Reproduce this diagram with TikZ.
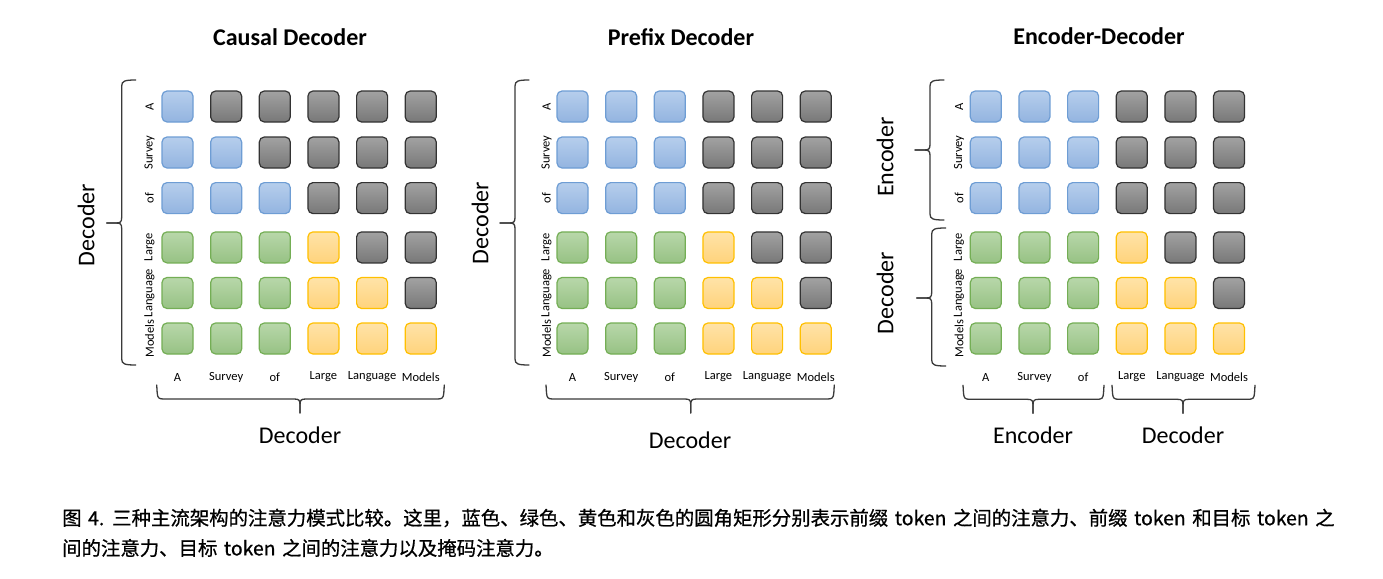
\documentclass[tikz,border=0pt]{standalone}
\usepackage{fontspec}
\setmainfont{Carlito}
\newfontfamily\cjk[WordSpace=1.5,FakeBold=0.7]{Noto Sans CJK SC}

% cell colours: line, top and bottom of the gradient
\definecolor{line-b}{HTML}{6E9DD4}
\definecolor{top-b}{HTML}{B6CEEC}
\definecolor{bot-b}{HTML}{93B4E0}
\definecolor{line-g}{HTML}{74AE55}
\definecolor{top-g}{HTML}{B8D7AA}
\definecolor{bot-g}{HTML}{97C284}
\definecolor{line-y}{HTML}{FFC000}
\definecolor{top-y}{HTML}{FFE3A8}
\definecolor{bot-y}{HTML}{FFD37C}
\definecolor{line-k}{HTML}{333333}
\definecolor{top-k}{HTML}{A2A2A2}
\definecolor{bot-k}{HTML}{787878}
\definecolor{bracecol}{HTML}{3A3A3A}

% vertical brace pointing left: x of the stem, y top, y tip, y bottom
\newcommand{\sidebrace}[4]{%
  \draw[bracestroke] (#1+14,#2) .. controls (#1+3,#2) and (#1,#2+1) .. (#1,#2+6)
    -- (#1,#3-6) .. controls (#1,#3-1) and (#1-1,#3) .. (#1-6,#3) -- (#1-15,#3);
  \draw[bracestroke] (#1-15,#3) -- (#1-6,#3) .. controls (#1-1,#3) and (#1,#3+1) .. (#1,#3+6)
    -- (#1,#4-6) .. controls (#1,#4-1) and (#1+3,#4) .. (#1+14,#4);
}
% horizontal brace pointing down: y of the bar, x left, x tip, x right
\newcommand{\botbrace}[4]{%
  \draw[bracestroke] (#2,#1-14) -- (#2+0.5,#1-6) .. controls (#2+1,#1-1) and (#2+2,#1) .. (#2+7,#1)
    -- (#3-6,#1) .. controls (#3-1,#1) and (#3,#1+1) .. (#3,#1+6) -- (#3,#1+14);
  \draw[bracestroke] (#3,#1+14) -- (#3,#1+6) .. controls (#3,#1+1) and (#3+1,#1) .. (#3+6,#1)
    -- (#4-7,#1) .. controls (#4-2,#1) and (#4-1,#1-1) .. (#4-0.5,#1-6) -- (#4,#1-14);
}
% one attention grid: name, x of first column, x of row labels, row patterns
\newcommand{\attnpanel}[4]{%
  \foreach \row [count=\i] in {#4} {
    \pgfmathsetmacro{\yy}{{106.5,152.5,198.1,247.4,293,338.5}[\i-1]}
    \foreach \cc [count=\j] in \row {
      \node[cell=\cc] (#1-\i-\j) at ({#2+48.65*(\j-1)},\yy) {};
    }
  }
  \foreach \w [count=\i] in {A,Survey,of,Large,Language,Models} {
    \pgfmathsetmacro{\yy}{{106.5,152.5,198.1,247.4,293,338.5}[\i-1]}
    \node[tok,rotate=90] (#1-r\i) at (#3,\yy) {\w};
    \node[tok] (#1-c\i) at ({#2+48.65*(\i-1)},377) {\w};
  }
}

\begin{document}
\begin{tikzpicture}[x=1pt,y=-1pt,
  cell/.style={draw=line-#1, top color=top-#1, bottom color=bot-#1,
    rounded corners=5pt, minimum size=31pt, inner sep=0pt, line width=1.2pt},
  tok/.style={font=\fontsize{12.5}{14}\selectfont, inner sep=0pt},
  title/.style={font=\fontsize{24}{28}\selectfont\bfseries, inner sep=0pt},
  biglab/.style={font=\fontsize{24}{28}\selectfont, inner sep=0pt},
  caption/.style={font=\cjk\fontsize{19.4}{23}\selectfont, text=black, anchor=west, inner sep=0pt},
  bracestroke/.style={draw=bracecol, line width=1.3pt, line cap=round, line join=round}]

\fill[white] (0,0) rectangle (1383,578);
\path[use as bounding box] (0,0) rectangle (1383,578);

% titles
\node[title] (t-causal) at (290,37) {Causal Decoder};
\node[title] (t-prefix) at (681,37) {Prefix Decoder};
\node[title] (t-encdec) at (1099,36) {Encoder-Decoder};

% grids
\attnpanel{cd}{177.5}{149.5}{{b,k,k,k,k,k},{b,b,k,k,k,k},{b,b,b,k,k,k},{g,g,g,y,k,k},{g,g,g,y,y,k},{g,g,g,y,y,y}}
\attnpanel{pd}{572.5}{546.5}{{b,b,b,k,k,k},{b,b,b,k,k,k},{b,b,b,k,k,k},{g,g,g,y,k,k},{g,g,g,y,y,k},{g,g,g,y,y,y}}
\attnpanel{ed}{985.8}{959}{{b,b,b,k,k,k},{b,b,b,k,k,k},{b,b,b,k,k,k},{g,g,g,y,k,k},{g,g,g,y,y,k},{g,g,g,y,y,y}}

% causal decoder braces and labels
\sidebrace{121.7}{80}{223}{365}
\node[biglab,rotate=90] (cd-side) at (86,225) {Decoder};
\botbrace{399}{156.7}{300}{444.3}
\node[biglab] (cd-bottom) at (300,435) {Decoder};

% prefix decoder braces and labels
\sidebrace{515}{80}{223}{365}
\node[biglab,rotate=90] (pd-side) at (480,223) {Decoder};
\botbrace{399}{546}{690.7}{834.3}
\node[biglab] (pd-bottom) at (690,440) {Decoder};

% encoder-decoder braces and labels
\sidebrace{930}{80}{150}{220}
\node[biglab,rotate=90] (ed-side-enc) at (885,157) {Encoder};
\sidebrace{931.7}{228}{298}{366}
\node[biglab,rotate=90] (ed-side-dec) at (885,293) {Decoder};
\botbrace{399.3}{963}{1033}{1104}
\node[biglab] (ed-bottom-enc) at (1033,435) {Encoder};
\botbrace{399.3}{1112}{1183}{1255}
\node[biglab] (ed-bottom-dec) at (1183,435) {Decoder};

% caption
\node[caption] (cap1) at (62,518) {图 4. 三种主流架构的注意力模式比较。这里，蓝色、绿色、黄色和灰色的圆角矩形分别表示前缀 token 之间的注意力、前缀 token 和目标 token 之};
\node[caption] (cap2) at (62,548) {间的注意力、目标 token 之间的注意力以及掩码注意力。};
\end{tikzpicture}
\end{document}
